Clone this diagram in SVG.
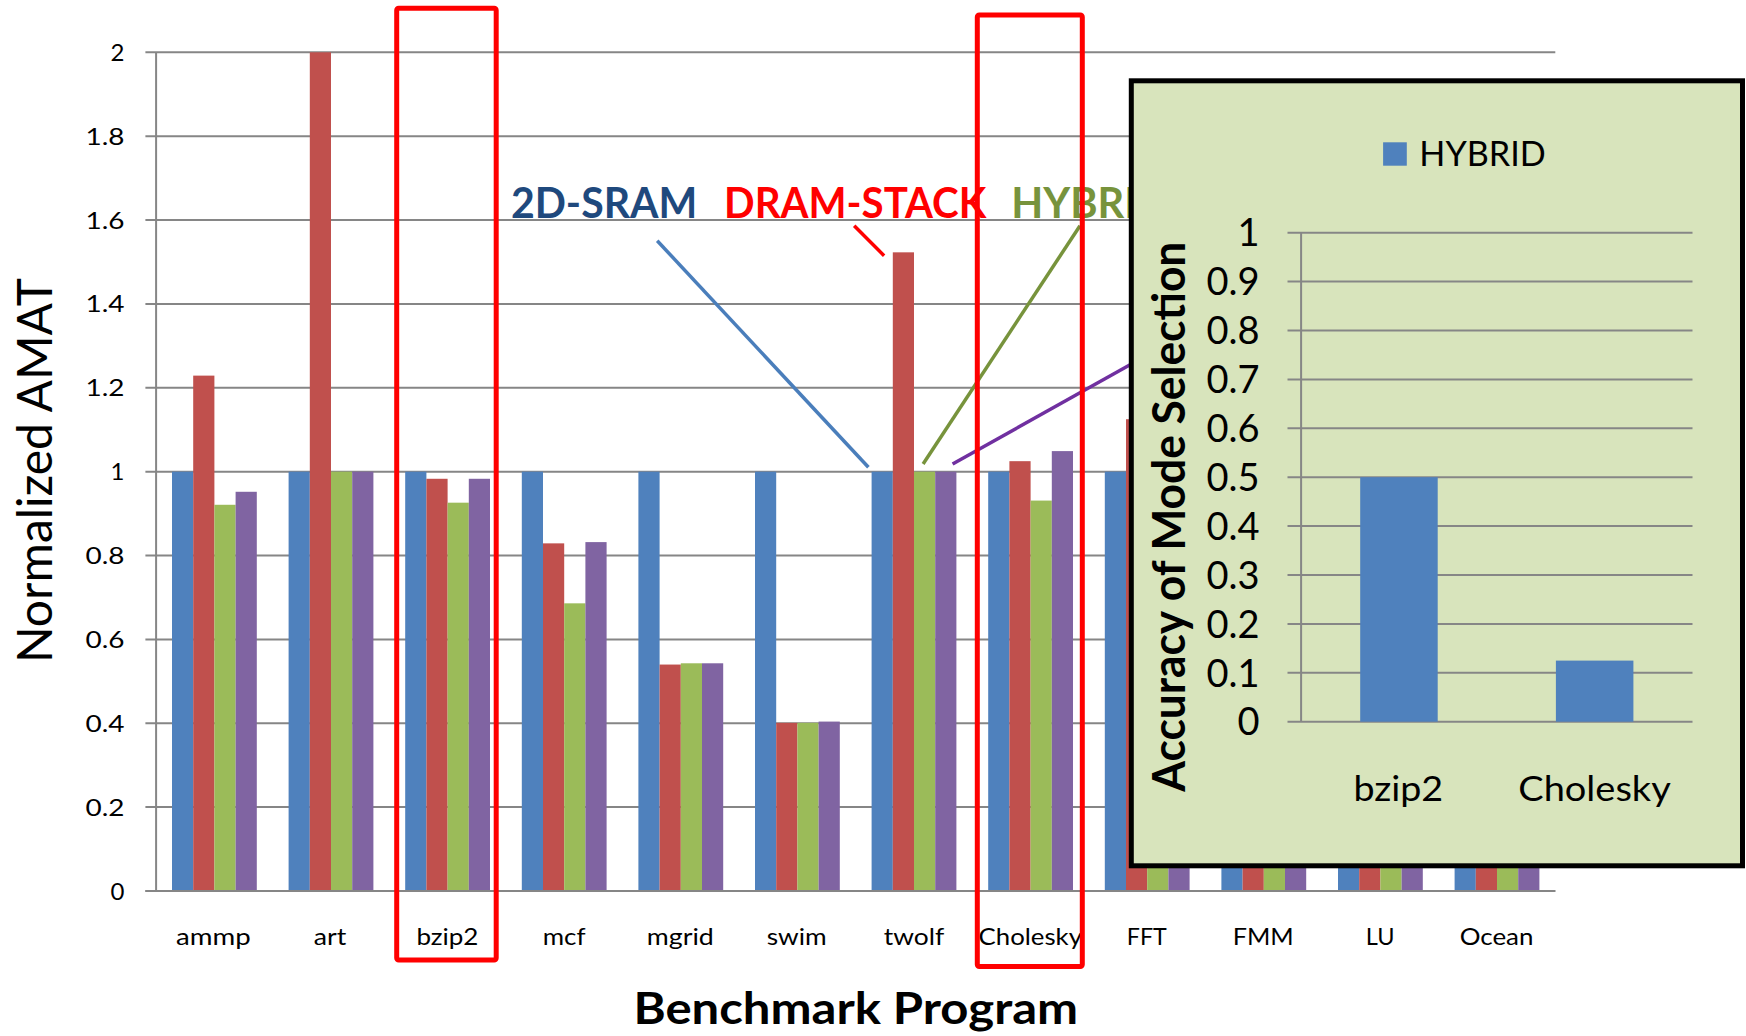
<svg xmlns="http://www.w3.org/2000/svg" width="1746" height="1036" viewBox="0 0 1746 1036">
  <style>
    text { font-family: Lato, "Open Sans", "Liberation Sans", sans-serif; fill: #000; }
    .grid { stroke: #868686; stroke-width: 2; fill: none; }
    .tick { font-size: 24px; text-anchor: end; }
    .cat { font-size: 24px; text-anchor: middle; }
    .s1 { fill: #4F81BD; }
    .s2 { fill: #C0504D; }
    .s3 { fill: #9BBB59; }
    .s4 { fill: #8064A2; }
    .note { font-size: 41.6px; font-weight: bold; }
    .hl { fill: none; stroke: #FF0000; stroke-width: 5; }
    .conn { stroke-width: 3.5; fill: none; }
    .itick { font-size: 38px; text-anchor: end; }
    .icat { font-size: 35px; text-anchor: middle; }
  </style>
  <rect width="1746" height="1036" fill="#FFFFFF"/>

  <!-- main chart: gridlines and axis -->
  <g id="main-grid">
    <path class="grid" d="M145.4 52.3H1555.3M145.4 136.2H1555.3M145.4 220H1555.3M145.4 303.9H1555.3M145.4 387.8H1555.3M145.4 471.7H1555.3M145.4 555.5H1555.3M145.4 639.4H1555.3M145.4 723.3H1555.3M145.4 807.1H1555.3M145.4 891H1555.3"/>
    <path class="grid" d="M156.1 52.3V891"/>
  </g>

  <g id="main-ticks">
    <text class="tick" x="124.5" y="60.8">2</text>
    <text class="tick" x="124.5" y="144.7" textLength="39" lengthAdjust="spacingAndGlyphs">1.8</text>
    <text class="tick" x="124.5" y="228.5" textLength="39" lengthAdjust="spacingAndGlyphs">1.6</text>
    <text class="tick" x="124.5" y="312.4" textLength="39" lengthAdjust="spacingAndGlyphs">1.4</text>
    <text class="tick" x="124.5" y="396.3" textLength="39" lengthAdjust="spacingAndGlyphs">1.2</text>
    <text class="tick" x="124.5" y="480.2">1</text>
    <text class="tick" x="124.5" y="564" textLength="39" lengthAdjust="spacingAndGlyphs">0.8</text>
    <text class="tick" x="124.5" y="647.9" textLength="39" lengthAdjust="spacingAndGlyphs">0.6</text>
    <text class="tick" x="124.5" y="731.8" textLength="39" lengthAdjust="spacingAndGlyphs">0.4</text>
    <text class="tick" x="124.5" y="815.6" textLength="39" lengthAdjust="spacingAndGlyphs">0.2</text>
    <text class="tick" x="124.5" y="899.5">0</text>
  </g>

  <!-- bars: 2D-SRAM, DRAM-STACK, HYBRID, fourth scheme -->
  <g id="bars-ammp">
    <rect class="s1" x="172" y="471.65" width="21.2" height="419.35"/>
    <rect class="s2" x="193.2" y="375.62" width="21.2" height="515.38"/>
    <rect class="s3" x="214.4" y="504.78" width="21.2" height="386.22"/>
    <rect class="s4" x="235.6" y="491.78" width="21.2" height="399.22"/>
  </g>
  <g id="bars-art">
    <rect class="s1" x="288.6" y="471.65" width="21.2" height="419.35"/>
    <rect class="s2" x="309.8" y="52.3" width="21.2" height="838.7"/>
    <rect class="s3" x="331" y="471.65" width="21.2" height="419.35"/>
    <rect class="s4" x="352.2" y="471.65" width="21.2" height="419.35"/>
  </g>
  <g id="bars-bzip2">
    <rect class="s1" x="405.2" y="471.65" width="21.2" height="419.35"/>
    <rect class="s2" x="426.4" y="478.78" width="21.2" height="412.22"/>
    <rect class="s3" x="447.6" y="502.68" width="21.2" height="388.32"/>
    <rect class="s4" x="468.8" y="478.78" width="21.2" height="412.22"/>
  </g>
  <g id="bars-mcf">
    <rect class="s1" x="521.8" y="471.65" width="21.2" height="419.35"/>
    <rect class="s2" x="543" y="543.36" width="21.2" height="347.64"/>
    <rect class="s3" x="564.2" y="603.33" width="21.2" height="287.67"/>
    <rect class="s4" x="585.4" y="542.1" width="21.2" height="348.9"/>
  </g>
  <g id="bars-mgrid">
    <rect class="s1" x="638.4" y="471.65" width="21.2" height="419.35"/>
    <rect class="s2" x="659.6" y="664.55" width="21.2" height="226.45"/>
    <rect class="s3" x="680.8" y="663.29" width="21.2" height="227.71"/>
    <rect class="s4" x="702" y="663.29" width="21.2" height="227.71"/>
  </g>
  <g id="bars-swim">
    <rect class="s1" x="755" y="471.65" width="21.2" height="419.35"/>
    <rect class="s2" x="776.2" y="722.84" width="21.2" height="168.16"/>
    <rect class="s3" x="797.4" y="722.84" width="21.2" height="168.16"/>
    <rect class="s4" x="818.6" y="721.58" width="21.2" height="169.42"/>
  </g>
  <g id="bars-twolf">
    <rect class="s1" x="871.6" y="471.65" width="21.2" height="419.35"/>
    <rect class="s2" x="892.8" y="252.33" width="21.2" height="638.67"/>
    <rect class="s3" x="914" y="471.65" width="21.2" height="419.35"/>
    <rect class="s4" x="935.2" y="471.65" width="21.2" height="419.35"/>
  </g>
  <g id="bars-cholesky">
    <rect class="s1" x="988.2" y="471.65" width="21.2" height="419.35"/>
    <rect class="s2" x="1009.4" y="461.17" width="21.2" height="429.83"/>
    <rect class="s3" x="1030.6" y="500.58" width="21.2" height="390.42"/>
    <rect class="s4" x="1051.8" y="451.1" width="21.2" height="439.9"/>
  </g>
  <g id="bars-fft">
    <rect class="s1" x="1104.8" y="471.65" width="21.2" height="419.35"/>
    <rect class="s2" x="1126" y="419.23" width="21.2" height="471.77"/>
    <rect class="s3" x="1147.2" y="471.65" width="21.2" height="419.35"/>
    <rect class="s4" x="1168.4" y="471.65" width="21.2" height="419.35"/>
  </g>
  <g id="bars-fmm">
    <rect class="s1" x="1221.4" y="471.65" width="21.2" height="419.35"/>
    <rect class="s2" x="1242.6" y="471.65" width="21.2" height="419.35"/>
    <rect class="s3" x="1263.8" y="492.62" width="21.2" height="398.38"/>
    <rect class="s4" x="1285" y="484.23" width="21.2" height="406.77"/>
  </g>
  <g id="bars-lu">
    <rect class="s1" x="1338" y="471.65" width="21.2" height="419.35"/>
    <rect class="s2" x="1359.2" y="471.65" width="21.2" height="419.35"/>
    <rect class="s3" x="1380.4" y="471.65" width="21.2" height="419.35"/>
    <rect class="s4" x="1401.6" y="471.65" width="21.2" height="419.35"/>
  </g>
  <g id="bars-ocean">
    <rect class="s1" x="1454.6" y="471.65" width="21.2" height="419.35"/>
    <rect class="s2" x="1475.8" y="471.65" width="21.2" height="419.35"/>
    <rect class="s3" x="1497" y="484.23" width="21.2" height="406.77"/>
    <rect class="s4" x="1518.2" y="484.23" width="21.2" height="406.77"/>
  </g>

  <g id="main-x-axis">
    <path class="grid" d="M145.4 891H1555.3"/>
  </g>

  <g id="categories">
    <text class="cat" x="213.4" y="945" textLength="74.7" lengthAdjust="spacingAndGlyphs">ammp</text>
    <text class="cat" x="330" y="945" textLength="32.5" lengthAdjust="spacingAndGlyphs">art</text>
    <text class="cat" x="447.4" y="945" textLength="62" lengthAdjust="spacingAndGlyphs">bzip2</text>
    <text class="cat" x="564.1" y="945" textLength="42.8" lengthAdjust="spacingAndGlyphs">mcf</text>
    <text class="cat" x="680.3" y="945" textLength="67" lengthAdjust="spacingAndGlyphs">mgrid</text>
    <text class="cat" x="796.7" y="945" textLength="60" lengthAdjust="spacingAndGlyphs">swim</text>
    <text class="cat" x="914" y="945" textLength="60.5" lengthAdjust="spacingAndGlyphs">twolf</text>
    <text class="cat" x="1030.3" y="945" textLength="103.4" lengthAdjust="spacingAndGlyphs">Cholesky</text>
    <text class="cat" x="1146.8" y="945" textLength="40" lengthAdjust="spacingAndGlyphs">FFT</text>
    <text class="cat" x="1263.2" y="945" textLength="61" lengthAdjust="spacingAndGlyphs">FMM</text>
    <text class="cat" x="1380.2" y="945" textLength="28.8" lengthAdjust="spacingAndGlyphs">LU</text>
    <text class="cat" x="1496.6" y="945" textLength="73.8" lengthAdjust="spacingAndGlyphs">Ocean</text>
  </g>

  <g id="axis-titles">
    <text transform="translate(51.7 470.5) rotate(-90)" text-anchor="middle" font-size="48" textLength="385" lengthAdjust="spacingAndGlyphs">Normalized AMAT</text>
    <text x="855.8" y="1023.6" text-anchor="middle" font-size="44" font-weight="bold" textLength="444.7" lengthAdjust="spacingAndGlyphs">Benchmark Program</text>
  </g>

  <!-- leader lines from the scheme names down to the twolf bars -->
  <g id="connectors">
    <path class="conn" stroke="#4A7EBB" d="M657.2 240.7L868.4 467.3"/>
    <path class="conn" stroke="#FF0000" d="M854.2 225.7L884.1 255.7"/>
    <path class="conn" stroke="#77933C" d="M923.1 464L1080 225.7"/>
    <path class="conn" stroke="#7030A0" d="M952.6 464L1135 362"/>
  </g>

  <g id="scheme-names">
    <text class="note" x="510.9" y="218.3" fill="#1F497D" style="fill:#1F497D" textLength="186.4" lengthAdjust="spacingAndGlyphs">2D-SRAM</text>
    <text class="note" x="724.1" y="218.3" style="fill:#FF0000" textLength="262.2" lengthAdjust="spacingAndGlyphs">DRAM-STACK</text>
    <text class="note" x="1011.2" y="218.3" style="fill:#77933C">HYBRI</text>
  </g>

  <!-- highlighted benchmarks -->
  <g id="highlight-bzip2">
    <rect class="hl" x="396.7" y="8.3" width="99.5" height="951.8" rx="2"/>
  </g>
  <g id="highlight-cholesky">
    <rect class="hl" x="977.3" y="15" width="105" height="951.6" rx="2"/>
  </g>

  <!-- inset chart: accuracy of mode selection -->
  <g id="inset">
    <rect x="1131.3" y="80.8" width="611.2" height="785" fill="#D8E4BC" stroke="#000" stroke-width="5"/>
    <rect x="1383.1" y="142.3" width="23.7" height="23.4" class="s1"/>
    <text x="1419.3" y="165.7" font-size="35" textLength="126.5" lengthAdjust="spacingAndGlyphs">HYBRID</text>
    <path class="grid" d="M1287.5 232.7H1692.5M1287.5 281.6H1692.5M1287.5 330.5H1692.5M1287.5 379.4H1692.5M1287.5 428.3H1692.5M1287.5 477.2H1692.5M1287.5 526.1H1692.5M1287.5 575H1692.5M1287.5 623.9H1692.5M1287.5 672.8H1692.5M1287.5 721.7H1692.5"/>
    <path class="grid" d="M1301.1 232.7V721.7"/>
    <rect class="s1" x="1360.2" y="477.2" width="77.5" height="244.5"/>
    <rect class="s1" x="1555.9" y="660.6" width="77.5" height="61.1"/>
    <text class="itick" x="1259.5" y="246.4">1</text>
    <text class="itick" x="1259.5" y="295.3">0.9</text>
    <text class="itick" x="1259.5" y="344.2">0.8</text>
    <text class="itick" x="1259.5" y="393.1">0.7</text>
    <text class="itick" x="1259.5" y="442">0.6</text>
    <text class="itick" x="1259.5" y="490.9">0.5</text>
    <text class="itick" x="1259.5" y="539.8">0.4</text>
    <text class="itick" x="1259.5" y="588.7">0.3</text>
    <text class="itick" x="1259.5" y="637.6">0.2</text>
    <text class="itick" x="1259.5" y="686.5">0.1</text>
    <text class="itick" x="1259.5" y="735.4">0</text>
    <text class="icat" x="1398.3" y="800.5" textLength="89.8" lengthAdjust="spacingAndGlyphs">bzip2</text>
    <text class="icat" x="1594.5" y="800.5" textLength="152.5" lengthAdjust="spacingAndGlyphs">Cholesky</text>
    <text transform="translate(1184.5 516.7) rotate(-90)" text-anchor="middle" font-size="45" font-weight="bold" textLength="550" lengthAdjust="spacingAndGlyphs">Accuracy of Mode Selection</text>
  </g>
</svg>
